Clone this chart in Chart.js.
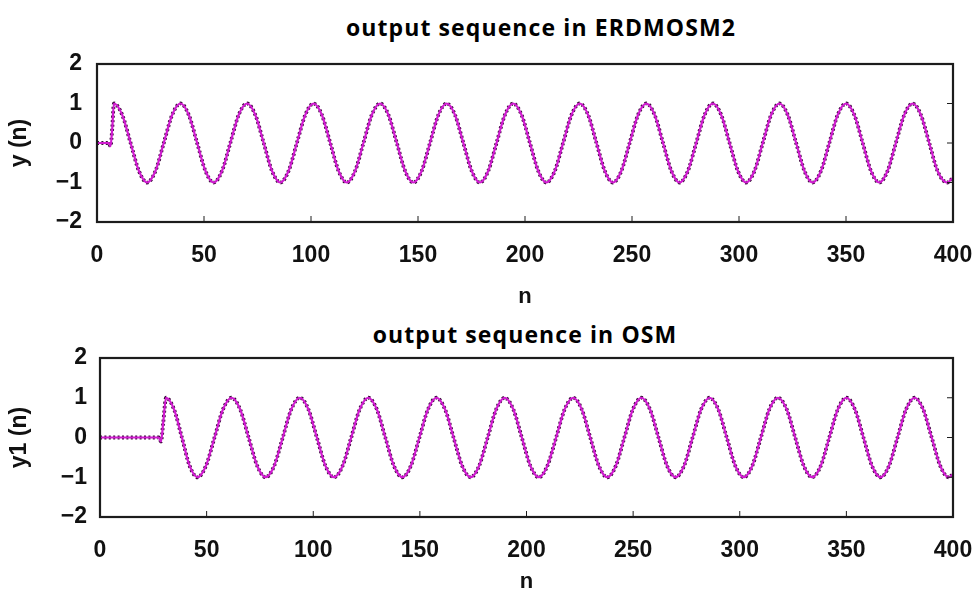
<!DOCTYPE html>
<html>
<head>
<meta charset="utf-8">
<script src="https://cdn.jsdelivr.net/npm/chart.js@4.4.1/dist/chart.umd.min.js"></script>
<style>
  body { margin: 0; background: #fff; }
  #wrap { position: relative; width: 980px; height: 595px; overflow: hidden; }
  canvas { position: absolute; left: 0; }
  .ttl { position: absolute; font-family: "Open Sans", sans-serif; font-weight: bold; font-size: 23px;
         letter-spacing: 1.1px; color: #000; text-align: center; white-space: nowrap; line-height: 26px; }
</style>
</head>
<body>
<div id="wrap">
  <div class="ttl" style="left:291px;width:500px;top:14px;">output sequence in ERDMOSM2</div>
  <canvas id="top" width="980" height="315" style="top:0"></canvas>
  <div class="ttl" style="left:275px;width:500px;top:321px;">output sequence in OSM</div>
  <canvas id="bot" width="980" height="280" style="top:315px"></canvas>
</div>
<script>
// ---- data (n, value) ----
var topN = [0, 5.5, 6.3, 7.1, 7.9,
  11.8, 15.7, 19.6, 23.4, 27.3, 31.2, 35.1, 39.0,
  42.9, 46.8, 50.7, 54.5, 58.4, 62.3, 66.2, 70.1,
  74.0, 77.9, 81.8, 85.6, 89.5, 93.4, 97.3, 101.2,
  105.1, 109.0, 112.9, 116.7, 120.6, 124.5, 128.4, 132.3,
  136.2, 140.1, 144.0, 147.8, 151.7, 155.6, 159.5, 163.4,
  167.3, 171.2, 175.1, 178.9, 182.8, 186.7, 190.6, 194.5,
  198.4, 202.3, 206.2, 210.0, 213.9, 217.8, 221.7, 225.6,
  229.5, 233.4, 237.3, 241.1, 245.0, 248.9, 252.8, 256.7,
  260.6, 264.5, 268.4, 272.2, 276.1, 280.0, 283.9, 287.8,
  291.7, 295.6, 299.5, 303.3, 307.2, 311.1, 315.0, 318.9,
  322.8, 326.7, 330.6, 334.4, 338.3, 342.2, 346.1, 350.0,
  353.9, 357.8, 361.7, 365.5, 369.4, 373.3, 377.2, 381.1,
  385.0, 388.9, 392.8, 397.2, 400];
var topY = [0, 0, -0.08, 0.35, 1,
  0.71, 0, -0.71, -1, -0.71, 0, 0.71, 1,
  0.71, 0, -0.71, -1, -0.71, 0, 0.71, 1,
  0.71, 0, -0.71, -1, -0.71, 0, 0.71, 1,
  0.71, 0, -0.71, -1, -0.71, 0, 0.71, 1,
  0.71, 0, -0.71, -1, -0.71, 0, 0.71, 1,
  0.71, 0, -0.71, -1, -0.71, 0, 0.71, 1,
  0.71, 0, -0.71, -1, -0.71, 0, 0.71, 1,
  0.71, 0, -0.71, -1, -0.71, 0, 0.71, 1,
  0.71, 0, -0.71, -1, -0.71, 0, 0.71, 1,
  0.71, 0, -0.71, -1, -0.71, 0, 0.71, 1,
  0.71, 0, -0.71, -1, -0.71, 0, 0.71, 1,
  0.71, 0, -0.71, -1, -0.71, 0, 0.71, 1,
  0.71, 0, -0.71, -1, -0.88];

var botN = [0, 27.5, 28.6, 29.6, 31.0,
  34.7, 38.4, 42.0, 45.7, 49.7, 53.7, 57.7, 61.7,
  65.7, 69.7, 73.7, 77.7, 81.7, 85.7, 89.7, 93.7,
  97.7, 101.7, 105.7, 109.7, 113.8, 117.8, 121.8, 125.8,
  129.8, 133.8, 137.8, 141.8, 145.8, 149.8, 153.8, 157.8,
  161.8, 165.8, 169.8, 173.8, 177.8, 181.8, 185.8, 189.8,
  193.8, 197.8, 201.8, 205.8, 209.8, 213.9, 217.9, 221.9,
  225.9, 229.9, 233.9, 237.9, 241.9, 245.9, 249.9, 253.9,
  257.9, 261.9, 265.9, 269.9, 273.9, 277.9, 281.9, 285.9,
  289.9, 293.9, 297.9, 301.9, 305.9, 309.9, 313.9, 317.9,
  322.0, 326.0, 330.0, 334.0, 338.0, 342.0, 346.0, 350.0,
  354.0, 358.0, 362.0, 366.0, 370.0, 374.0, 378.0, 382.0,
  386.0, 390.0, 394.0, 398.0, 400];
var botY = [0, 0, -0.1, 0.35, 1,
  0.71, 0, -0.71, -1, -0.71, 0, 0.71, 1,
  0.71, 0, -0.71, -1, -0.71, 0, 0.71, 1,
  0.71, 0, -0.71, -1, -0.71, 0, 0.71, 1,
  0.71, 0, -0.71, -1, -0.71, 0, 0.71, 1,
  0.71, 0, -0.71, -1, -0.71, 0, 0.71, 1,
  0.71, 0, -0.71, -1, -0.71, 0, 0.71, 1,
  0.71, 0, -0.71, -1, -0.71, 0, 0.71, 1,
  0.71, 0, -0.71, -1, -0.71, 0, 0.71, 1,
  0.71, 0, -0.71, -1, -0.71, 0, 0.71, 1,
  0.71, 0, -0.71, -1, -0.71, 0, 0.71, 1,
  0.71, 0, -0.71, -1, -0.71, 0, 0.71, 1,
  0.71, 0, -0.71, -1, -0.92];

var xTicks = [0, 50, 100, 150, 200, 250, 300, 350, 400];
var yTicks = [-2, -1, 0, 1, 2];

Chart.defaults.font.family = '"Liberation Sans", Arial, sans-serif';
Chart.defaults.font.weight = 'bold';
Chart.defaults.font.size = 23;
Chart.defaults.color = '#111';

function pts(n, v) {
  var out = [];
  for (var i = 0; i < n.length; i++) out.push({x: n[i], y: v[i]});
  return out;
}

// box round the plot + small inward ticks (bottom and right, as in the picture)
var frame = {
  id: 'frame',
  afterDatasetsDraw: function(chart) {
    var ctx = chart.ctx, a = chart.chartArea, sx = chart.scales.x, sy = chart.scales.y;
    ctx.save();
    ctx.strokeStyle = '#1c1c1c';
    ctx.lineWidth = 1;
    xTicks.forEach(function(v) {
      if (v === xTicks[0] || v === xTicks[xTicks.length - 1]) return;
      var px = sx.getPixelForValue(v);
      ctx.beginPath(); ctx.moveTo(px, a.bottom); ctx.lineTo(px, a.bottom - 6); ctx.stroke();
    });
    yTicks.forEach(function(v) {
      if (v === yTicks[0] || v === yTicks[yTicks.length - 1]) return;
      var py = sy.getPixelForValue(v);
      ctx.beginPath(); ctx.moveTo(a.right, py); ctx.lineTo(a.right - 6, py); ctx.stroke();
    });
    ctx.lineWidth = 2.2;
    ctx.strokeRect(a.left, a.top, a.right - a.left, a.bottom - a.top);
    ctx.restore();
  }
};

function makeChart(id, n, v, yLabel, opt) {
  var data = pts(n, v);
  return new Chart(document.getElementById(id), {
    type: 'line',
    data: {
      datasets: [
        { data: data, borderColor: '#d01cd0', borderWidth: 2.2, pointRadius: 0,
          cubicInterpolationMode: 'monotone', order: 1 },
        { data: data, borderColor: '#3a0a3a', borderWidth: 3.8, borderDash: [2, 2.4], pointRadius: 0,
          cubicInterpolationMode: 'monotone', order: 2 }
      ]
    },
    options: {
      responsive: false,
      animation: false,
      layout: { padding: { left: 0, right: opt.right, top: opt.top, bottom: 0 } },
      plugins: { legend: { display: false }, tooltip: { enabled: false } },
      scales: {
        x: {
          type: 'linear', min: 0, max: 400,
          grid: { display: false, drawTicks: false },
          border: { display: false },
          afterBuildTicks: function(s) { s.ticks = xTicks.map(function(t) { return {value: t}; }); },
          ticks: { padding: 20, maxRotation: 0 },
          title: { display: true, text: 'n', font: { size: 22 }, padding: { top: 0, bottom: opt.nPad } },
          afterFit: function(s) { s.height = opt.xh; s.paddingLeft = 0; s.paddingRight = 0; }
        },
        y: {
          min: -2, max: 2,
          grid: { display: false, drawTicks: false },
          border: { display: false },
          afterBuildTicks: function(s) { s.ticks = yTicks.map(function(t) { return {value: t}; }); },
          ticks: { padding: opt.yPad, callback: function(val) { return String(val).replace('-', '\u2212'); } },
          title: { display: true, text: yLabel, font: { size: 23 }, padding: { top: 6, bottom: 0 } },
          afterFit: function(s) { s.width = opt.left; s.paddingTop = 0; s.paddingBottom = 0; }
        }
      }
    },
    plugins: [frame]
  });
}

makeChart('top', topN, topY, 'y (n)', { left: 97, right: 27, top: 64, xh: 93, yPad: 15, nPad: 5 });
makeChart('bot', botN, botY, 'y1 (n)', { left: 100, right: 27, top: 43, xh: 78, yPad: 13, nPad: 0 });
</script>
</body>
</html>
